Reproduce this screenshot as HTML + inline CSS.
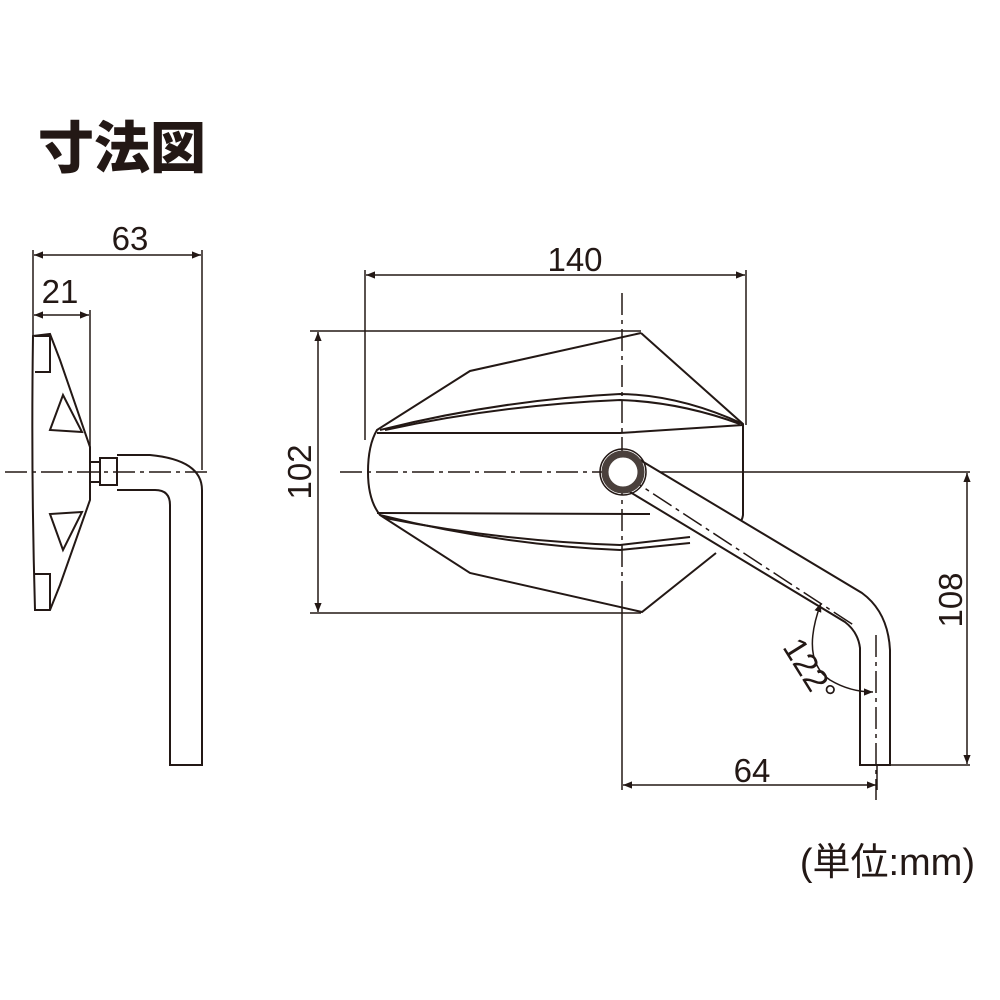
<!DOCTYPE html>
<html><head><meta charset="utf-8"><style>
html,body{margin:0;padding:0;background:#fff}
svg{display:block}
text{font-family:"Liberation Sans","Noto Sans CJK JP",sans-serif;fill:#231815}
</style></head><body>
<svg width="1000" height="1000" viewBox="0 0 1000 1000" xmlns="http://www.w3.org/2000/svg">
<defs>
<marker id="a" viewBox="0 0 10 10" refX="10" refY="5" markerWidth="9" markerHeight="9" orient="auto-start-reverse" markerUnits="userSpaceOnUse"><path d="M0,1 L10,5 L0,9z" fill="#231815"/></marker>
</defs>
<text x="38" y="168" font-size="56" font-weight="900" style="font-family:'Noto Sans CJK JP',sans-serif">寸法図</text>
<g stroke="#231815" stroke-width="2" fill="none">
<line x1="33" y1="250" x2="33" y2="335" stroke-width="1.5"/>
<line x1="202" y1="250" x2="202" y2="470" stroke-width="1.5"/>
<line x1="90" y1="310" x2="90" y2="450" stroke-width="1.5"/>
<line x1="34" y1="255" x2="201" y2="255" stroke-width="1.5" marker-start="url(#a)" marker-end="url(#a)"/>
<line x1="34" y1="315" x2="89" y2="315" stroke-width="1.5" marker-start="url(#a)" marker-end="url(#a)"/>
<line x1="5" y1="472" x2="210" y2="472" stroke-width="1.5" stroke-dasharray="22,5,4,5"/>
<path d="M33,336 L50,334 L60,360 L90,447 L90,500 L60,585 L50,610 L35,610 Q31,472 33,336z"/>
<path d="M35,336 L50,336 L50,372 L35,372"/>
<path d="M35,574 L50,574 L50,610"/>
<path d="M63,395 L50,430 L82,432 Z"/>
<path d="M63,550 L50,514 L82,512 Z"/>
<rect x="90" y="462" width="10" height="20"/>
<rect x="100" y="458" width="17" height="27"/>
<path d="M117,455 L150,455 Q202,460 202,490 L202,765 L170,765 L170,505 Q170,490 155,490 L117,490"/>
<line x1="365" y1="270" x2="365" y2="440" stroke-width="1.5"/>
<line x1="746" y1="270" x2="746" y2="425" stroke-width="1.5"/>
<line x1="366" y1="275" x2="745" y2="275" stroke-width="1.5" marker-start="url(#a)" marker-end="url(#a)"/>
<line x1="310" y1="331" x2="641" y2="331" stroke-width="1.5"/>
<line x1="310" y1="613" x2="641" y2="613" stroke-width="1.5"/>
<line x1="318" y1="332" x2="318" y2="612" stroke-width="1.5" marker-start="url(#a)" marker-end="url(#a)"/>
<line x1="640" y1="472" x2="970" y2="472" stroke-width="1.5"/>
<line x1="890" y1="765" x2="970" y2="765" stroke-width="1.5"/>
<line x1="967" y1="473" x2="967" y2="764" stroke-width="1.5" marker-start="url(#a)" marker-end="url(#a)"/>
<line x1="622" y1="600" x2="622" y2="790" stroke-width="1.5"/>
<line x1="877" y1="765" x2="877" y2="790" stroke-width="1.5"/>
<line x1="623" y1="785" x2="876" y2="785" stroke-width="1.5" marker-start="url(#a)" marker-end="url(#a)"/>
<line x1="622" y1="293" x2="622" y2="600" stroke-width="1.5" stroke-dasharray="22,5,4,5"/>
<line x1="340" y1="472" x2="610" y2="472" stroke-width="1.5" stroke-dasharray="22,5,4,5"/>
<path d="M641,333 L743,424 L743,515 Q742,522 738,523 M716,553 L642,612 L470,573 L380,515 Q368,500 368,472 Q368,445 377,430 L470,371 L641,333"/>
<path d="M377,433 L620,433 L743,425"/>
<path d="M380,430 Q500,400 620,394 Q680,395 743,424"/>
<path d="M385,430 Q500,405 620,400 Q680,402 740,424"/>
<path d="M377,513 L650,514"/>
<path d="M380,515 Q500,545 620,550 L690,543"/>
<path d="M385,518 Q500,541 620,545 L690,537"/>
<path d="M640,460 L862,593 Q888,612 890,650 L890,765 L860,765 L860,648 Q858,632 845,622 L630,492" fill="#fff"/>
<line x1="623" y1="474" x2="855" y2="626" stroke-width="1.5" stroke-dasharray="22,5,4,5"/>
<line x1="876" y1="635" x2="876" y2="800" stroke-width="1.5" stroke-dasharray="22,5,4,5"/>
<circle cx="623" cy="472" r="18" stroke-width="7" stroke="#4a403c" fill="#fff"/>
<circle cx="623" cy="472" r="23" stroke-width="1.5"/>
<path d="M821,603 Q800,660 830,680 Q850,692 873,692" stroke-width="1.5" marker-start="url(#a)" marker-end="url(#a)"/>
</g>
<text x="130" y="250" font-size="33" text-anchor="middle">63</text>
<text x="60" y="303" font-size="33" text-anchor="middle">21</text>
<text x="575" y="271" font-size="33" text-anchor="middle">140</text>
<text x="752" y="782" font-size="33" text-anchor="middle">64</text>
<text transform="translate(311,472) rotate(-90)" font-size="33" text-anchor="middle">102</text>
<text transform="translate(962,600) rotate(-90)" font-size="33" text-anchor="middle">108</text>
<text transform="translate(800,676) rotate(58)" font-size="33" text-anchor="middle">122°</text>
<text x="975" y="875" font-size="38" text-anchor="end">(単位:mm)</text>
</svg>
</body></html>
